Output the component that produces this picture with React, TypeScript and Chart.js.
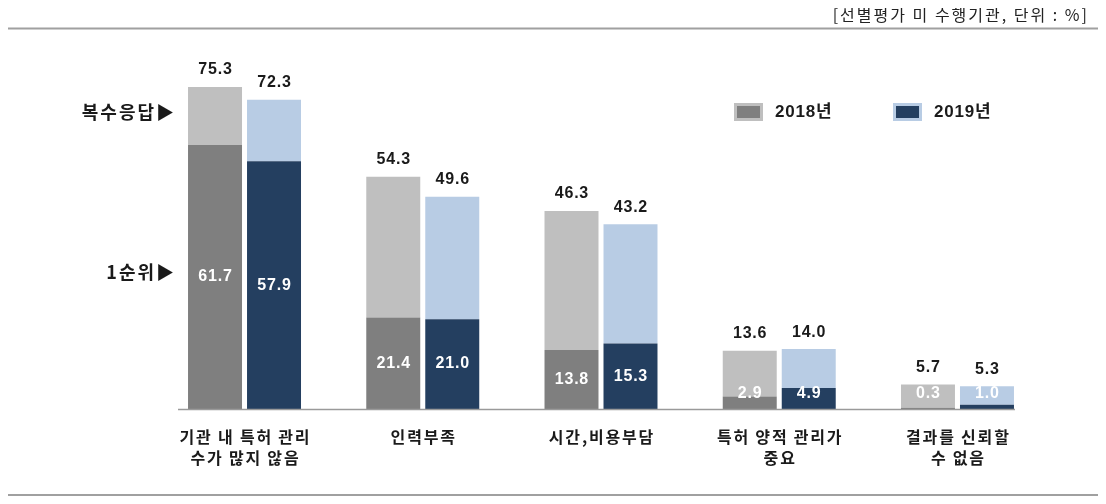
import React, { useEffect, useRef } from 'react';
import { Chart, registerables } from 'chart.js';

Chart.register(...registerables);

const categories: string[][] = [
  ['기관 내 특허 관리', '수가 많지 않음'],
  ['인력부족'],
  ['시간,비용부담'],
  ['특허 양적 관리가', '중요'],
  ['결과를 신뢰할', '수 없음'],
];
const years = ['2018년', '2019년'];
const multi2018 = [75.3, 54.3, 46.3, 13.6, 5.7];
const first2018 = [61.7, 21.4, 13.8, 2.9, 0.3];
const multi2019 = [72.3, 49.6, 43.2, 14.0, 5.3];
const first2019 = [57.9, 21.0, 15.3, 4.9, 1.0];
const rowLabels = ['복수응답▶', '1순위▶'];
const rowLabelValues = [69.5, 32];
const note = '[선별평가 미 수행기관, 단위 : %]';
const yMax = 80;

const C18D = '#7f7f7f';
const C18L = '#bfbfbf';
const C19D = '#243f60';
const C19L = '#b8cce4';

const NUM_FONT = '"Liberation Sans", Arial, "Noto Sans CJK KR", sans-serif';
const KR_FONT = '"Noto Sans CJK KR", "Liberation Sans", sans-serif';

function spaced(ctx: any, text: string, x: number, y: number, sp: number) {
  ctx.letterSpacing = sp + 'px';
  let dx = 0;
  if (ctx.textAlign === 'center') dx = sp / 2;
  else if (ctx.textAlign === 'right') dx = sp;
  ctx.fillText(text, x + dx, y);
  ctx.letterSpacing = '0px';
}

const decorPlugin = {
  id: 'decor',
  afterDatasetsDraw(chart: any) {
    const ctx = chart.ctx as any;
    const xs = chart.scales.x;
    const ys = chart.scales.y;
    const m0 = chart.getDatasetMeta(0);
    const m1 = chart.getDatasetMeta(1);
    const m2 = chart.getDatasetMeta(2);
    const m3 = chart.getDatasetMeta(3);
    ctx.save();

    // frame lines
    ctx.strokeStyle = '#a0a0a0';
    ctx.lineWidth = 2;
    ctx.beginPath();
    ctx.moveTo(-1, 20.5);
    ctx.lineTo(1092, 20.5);
    ctx.moveTo(-1, 487);
    ctx.lineTo(1092, 487);
    ctx.stroke();

    // baseline
    const b0 = m0.data[0];
    const bl = m3.data[m3.data.length - 1];
    const baseY = ys.getPixelForValue(0);
    ctx.strokeStyle = '#9a9a9a';
    ctx.lineWidth = 1.5;
    ctx.beginPath();
    ctx.moveTo(b0.x - b0.width / 2 - 10, baseY + 0.5);
    ctx.lineTo(bl.x + bl.width / 2 + 1, baseY + 0.5);
    ctx.stroke();

    // value labels
    const pairs = [
      { first: m0, top: m1, f: first2018, t: multi2018 },
      { first: m2, top: m3, f: first2019, t: multi2019 },
    ];
    ctx.textAlign = 'center';
    ctx.textBaseline = 'middle';
    pairs.forEach((p) => {
      p.top.data.forEach((el: any, i: number) => {
        ctx.fillStyle = '#1a1a1a';
        ctx.font = 'bold 16px ' + NUM_FONT;
        spaced(ctx, p.t[i].toFixed(1), el.x, el.y - 17, 0.8);
      });
      p.first.data.forEach((el: any, i: number) => {
        const center = (el.y + el.base) / 2;
        const y = Math.min(center, el.base - 15);
        ctx.fillStyle = '#ffffff';
        ctx.font = 'bold 16px ' + NUM_FONT;
        spaced(ctx, p.f[i].toFixed(1), el.x, y, 0.8);
      });
    });

    // category labels
    ctx.fillStyle = '#1a1a1a';
    ctx.font = 'bold 16px ' + KR_FONT;
    categories.forEach((lines, i) => {
      const x = xs.getPixelForValue(i);
      lines.forEach((ln, j) => {
        spaced(ctx, ln, x, baseY + 28 + j * 21, 1.8);
      });
    });

    // row labels
    ctx.textAlign = 'right';
    ctx.font = 'bold 18px ' + KR_FONT;
    rowLabels.forEach((t, i) => {
      spaced(ctx, t, b0.x - b0.width / 2 - 14, ys.getPixelForValue(rowLabelValues[i]), 2);
    });

    // legend
    const legend = [
      { label: years[0], fill: C18D, border: C18L, x: 726 },
      { label: years[1], fill: C19D, border: C19L, x: 885 },
    ];
    ctx.textAlign = 'left';
    ctx.font = 'bold 17px ' + NUM_FONT;
    legend.forEach((l) => {
      ctx.fillStyle = l.border;
      ctx.fillRect(l.x, 95, 29, 18);
      ctx.fillStyle = l.fill;
      ctx.fillRect(l.x + 3, 98, 23, 12);
      ctx.fillStyle = '#1a1a1a';
      spaced(ctx, l.label, l.x + 41, 104, 0.8);
    });

    // note
    ctx.textAlign = 'right';
    ctx.font = '16px ' + KR_FONT;
    ctx.fillStyle = '#222222';
    spaced(ctx, note, 1079, 7, 2);

    ctx.restore();
  },
};

export default function App() {
  const ref = useRef<HTMLCanvasElement | null>(null);
  useEffect(() => {
    if (!ref.current) return;
    const rest2018 = multi2018.map((v, i) => +(v - first2018[i]).toFixed(1));
    const rest2019 = multi2019.map((v, i) => +(v - first2019[i]).toFixed(1));
    const common = { categoryPercentage: 0.662, barPercentage: 0.915, borderWidth: 0 };
    const chart = new Chart(ref.current, {
      type: 'bar',
      data: {
        labels: categories.map((c) => c.join(' ')),
        datasets: [
          { label: years[0] + ' 1순위', data: first2018, backgroundColor: C18D, stack: 'a', ...common },
          { label: years[0] + ' 복수응답', data: rest2018, backgroundColor: C18L, stack: 'a', ...common },
          { label: years[1] + ' 1순위', data: first2019, backgroundColor: C19D, stack: 'b', ...common },
          { label: years[1] + ' 복수응답', data: rest2019, backgroundColor: C19L, stack: 'b', ...common },
        ],
      },
      options: {
        responsive: false,
        animation: false,
        layout: { padding: { left: 147.4, right: 51.4, top: 58.8, bottom: 87 } },
        plugins: { legend: { display: false }, tooltip: { enabled: false } },
        scales: {
          x: { stacked: true, display: false },
          y: { stacked: true, display: false, min: 0, max: yMax },
        },
      },
      plugins: [decorPlugin],
    });
    return () => chart.destroy();
  }, []);
  return (
    <div style={{ width: 1090, height: 488 }}>
      <canvas ref={ref} width={1090} height={488} style={{ display: 'block' }} />
    </div>
  );
}
